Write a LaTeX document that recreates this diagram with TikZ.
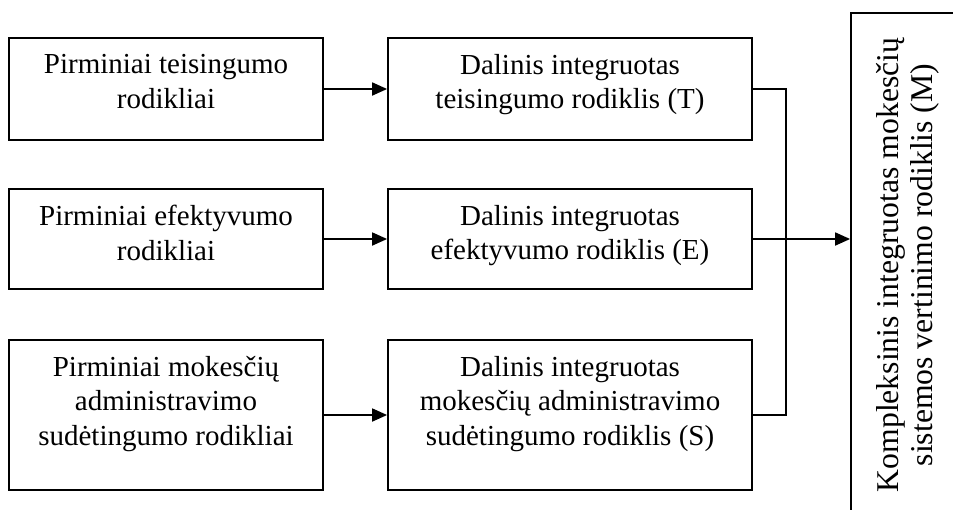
\documentclass[tikz,border=0pt]{standalone}
\usepackage{fontspec}
\setmainfont{Liberation Serif}
\usetikzlibrary{arrows.meta,calc}
\tikzset{
  box/.style={draw, line width=1.8pt, inner sep=0pt},
  lbl/.style={font=\fontsize{29}{34.5}\selectfont, align=center, inner sep=0pt, anchor=north},
  arr/.style={-{Triangle[length=15pt,width=13pt]}, line width=1.8pt},
  wire/.style={line width=1.8pt}
}
\begin{document}
\begin{tikzpicture}[x=1pt,y=-1pt]
\path[use as bounding box] (0,0) rectangle (953,509);
\clip (0,0) rectangle (953,509);
% left column
\node[box, minimum width=314, minimum height=102] (p1) at (166,89) {};
\node[box, minimum width=314, minimum height=100] (p2) at (166,239) {};
\node[box, minimum width=314, minimum height=150] (p3) at (166,415) {};
% middle column
\node[box, minimum width=364, minimum height=102] (d1) at (570,89) {};
\node[box, minimum width=364, minimum height=100] (d2) at (570,239) {};
\node[box, minimum width=364, minimum height=150] (d3) at (570,415) {};
% right box
\node[box, minimum width=112, minimum height=504] (m) at (907,265) {};
% labels
\node[lbl] (lp1) at ($(p1.north)+(0,17)$) {Pirminiai teisingumo\\rodikliai};
\node[lbl] (lp2) at ($(p2.north)+(0,17)$) {Pirminiai efektyvumo\\rodikliai};
\node[lbl] (lp3) at ($(p3.north)+(0,17)$) {Pirminiai mokesčių\\administravimo\\sudėtingumo rodikliai};
\node[lbl] (ld1) at ($(d1.north)+(0,17)$) {Dalinis integruotas\\teisingumo rodiklis (T)};
\node[lbl] (ld2) at ($(d2.north)+(0,17)$) {Dalinis integruotas\\efektyvumo rodiklis (E)};
\node[lbl] (ld3) at ($(d3.north)+(0,17)$) {Dalinis integruotas\\mokesčių administravimo\\sudėtingumo rodiklis (S)};
\node[font=\fontsize{31.7}{34}\selectfont, align=center, inner sep=0pt, rotate=90] (lm) at (908,265) {Kompleksinis integruotas mokesčių\\sistemos vertinimo rodiklis (M)};
% connectors
\draw[arr] (p1.east) -- (d1.west);
\draw[arr] (p2.east) -- (d2.west);
\draw[arr] (p3.east) -- (d3.west);
\draw[wire] (d1.east) -- ++(33,0) |- (d3.east);
\draw[arr] (d2.east) -- (m.west |- d2.east);
\end{tikzpicture}
\end{document}
